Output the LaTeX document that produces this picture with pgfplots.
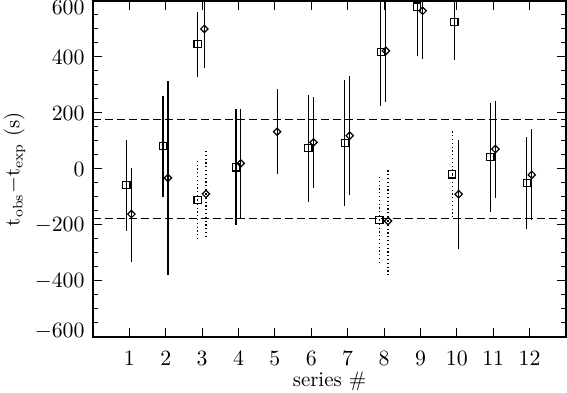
\documentclass[border=0pt]{standalone}
\usepackage{pgfplots}
\pgfplotsset{compat=1.18}
\usepackage{pgfplotstable}

\pgfplotstableread{
x y ep em
0.918 -57 161 164
1.925 82 179 181
2.874 446 116 117
3.93 6 208 206
5.92 74 190 191
6.92 93 225 225
7.91 417 220 192
8.91 580 176 176
9.93 526 140 138
10.92 42 193 197
11.92 -51 164 164
}\sqsolid

\pgfplotstableread{
x y ep em
1.055 -161 165 170
2.06 -32 346 347
3.06 500 140 138
4.06 20 194 197
5.06 133 153 152
6.06 95 163 164
7.055 119 212 212
8.05 422 200 183
9.06 565 172 172
10.05 -90 194 196
11.06 71 172 173
12.06 -21 163 161
}\diasolid

\pgfplotstableread{
x y ep em
2.874 -111 143 143
7.87 -182 161 158
9.87 -19 155 157
}\sqdotted

\pgfplotstableread{
x y ep em
3.104 -89 153 153
8.11 -186 185 193
}\diadotted

\begin{document}
\begin{tikzpicture}
\begin{axis}[
  name=ax,
  scale only axis,
  width=236.5bp, height=168bp,
  xmin=0, xmax=13, ymin=-600, ymax=600,
  xtick={1,...,12},
  ytick={-600,-400,...,600},
  yticklabels={\raisebox{2.8bp}[\height][\depth]{$-600$},$-400$,$-200$,$0$,$200$,$400$,\raisebox{-3.4bp}[\height][\depth]{$600$}},
  minor y tick num=3,
  tick align=inside,
  major tick length=4.5bp,
  minor tick length=2.6bp,
  tick style={line width=0.5bp, black},
  axis line style={line width=0.8bp, black},
  font=\fontsize{10.5}{12}\selectfont,
  xticklabel style={yshift=-3.5bp},
  yticklabel style={xshift=-0.7bp},
  xlabel={series \#},
  ylabel={t$_{\mathrm{obs}}$$-$t$_{\mathrm{exp}}$ (s)},
  xlabel style={at={(axis description cs:0.5,0)}, anchor=center, yshift=-22bp},
  ylabel style={at={(axis description cs:-0.166,0.5)}, anchor=center},
  clip=true,
]
\addplot[dash pattern=on 4bp off 2bp, line width=0.65bp, black] coordinates {(0,176) (13,176)};
\addplot[dash pattern=on 4bp off 2bp, line width=0.65bp, black] coordinates {(0,-176) (13,-176)};

\addplot[only marks, mark=square, mark size=1.8bp, black,
  mark options={solid, fill=white, line width=0.6bp},
  error bars/.cd, y dir=both, y explicit, error mark=none,
  error bar style={line width=0.6bp, black}]
  table[x=x, y=y, y error plus=ep, y error minus=em]{\sqsolid};

\addplot[only marks, mark=square, mark size=1.3bp, black,
  mark options={solid, rotate=45, fill=white, line width=0.6bp},
  error bars/.cd, y dir=both, y explicit, error mark=none,
  error bar style={line width=0.6bp, black}]
  table[x=x, y=y, y error plus=ep, y error minus=em]{\diasolid};

\addplot[only marks, mark=square, mark size=1.8bp, black,
  mark options={solid, fill=white, line width=0.6bp},
  error bars/.cd, y dir=both, y explicit, error mark=none,
  error bar style={line width=0.6bp, black, dash pattern=on 0.6bp off 1.3bp}]
  table[x=x, y=y, y error plus=ep, y error minus=em]{\sqdotted};

\addplot[only marks, mark=square, mark size=1.3bp, black,
  mark options={solid, rotate=45, fill=white, line width=0.6bp},
  error bars/.cd, y dir=both, y explicit, error mark=none,
  error bar style={line width=0.6bp, black, dash pattern=on 0.6bp off 1.3bp}]
  table[x=x, y=y, y error plus=ep, y error minus=em]{\diadotted};
\end{axis}
\pgfresetboundingbox
\path ([xshift=-46.5bp,yshift=-28bp]ax.south west) rectangle ([xshift=0.5bp,yshift=0.5bp]ax.north east);
\end{tikzpicture}
\end{document}
